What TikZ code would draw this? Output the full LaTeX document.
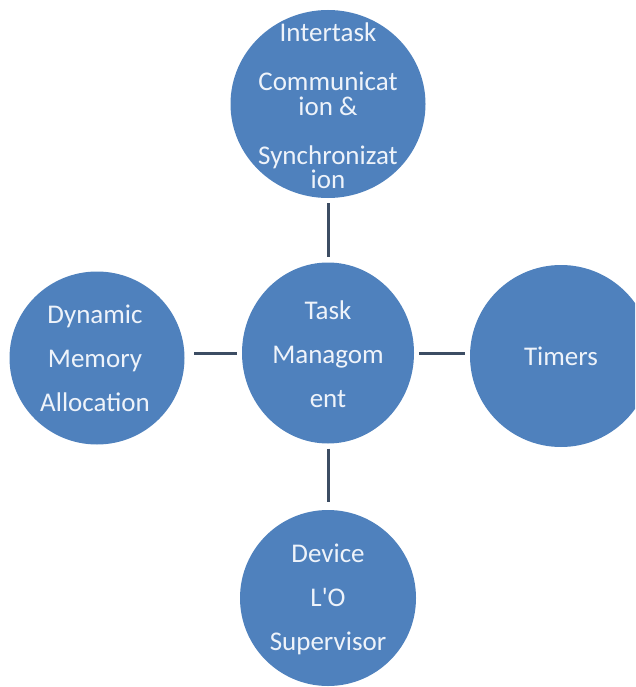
\documentclass[tikz,border=0pt]{standalone}
\usepackage{fontspec}
\setmainfont{Carlito}[Ligatures=TeXOff]
\usetikzlibrary{shapes.geometric}
\definecolor{bubble}{HTML}{4F81BD}
\definecolor{bubtext}{HTML}{EEF3FA}
\definecolor{linkc}{HTML}{3C4D63}
\tikzset{
  bub/.style={ellipse, fill=bubble, inner sep=0pt},
  btext/.style={text=bubtext, inner sep=0pt, align=center,
    font=\fontsize{27}{44}\selectfont},
  link/.style={draw=linkc, line width=3pt, shorten <=5pt, shorten >=5pt}
}
\begin{document}
\begin{tikzpicture}[x=1pt,y=-1pt]
\useasboundingbox (0,0) rectangle (635,687);
\clip (0,0) rectangle (635,687);
\node[bub, minimum width=195pt, minimum height=188pt] (top) at (328,104) {};
\node[bub, minimum width=172pt, minimum height=181pt] (mid) at (328,353) {};
\node[bub, minimum width=175pt, minimum height=173pt] (left) at (97,358) {};
\node[bub, minimum width=182pt, minimum height=182pt] (right) at (561,356) {};
\node[bub, minimum width=176pt, minimum height=176pt] (bot) at (328,598) {};
\node[btext, font=\fontsize{27}{24.5}\selectfont] (topt) at ([yshift=-2pt]top.center)
  {Intertask\\[24.5pt]Communicat\\ion \&\\[24.5pt]Synchronizat\\ion};
\node[btext] (midt) at ([yshift=-1pt]mid.center) {Task\\Managom\\ent};
\node[btext] (leftt) at ([xshift=-2pt]left.center) {Dynamic\\Memory\\Allocation};
\node[btext] (rightt) at (right.center) {Timers};
\node[btext] (bott) at ([yshift=-1pt]bot.center) {Device\\L'O\\Supervisor};
\draw[link] (top) -- (mid);
\draw[link, shorten >=9pt] (mid.west) -- (mid.west -| left.east);
\draw[link] (mid.east) -- (mid.east -| right.west);
\draw[link, shorten >=8pt] (mid) -- (bot);
\end{tikzpicture}
\end{document}
